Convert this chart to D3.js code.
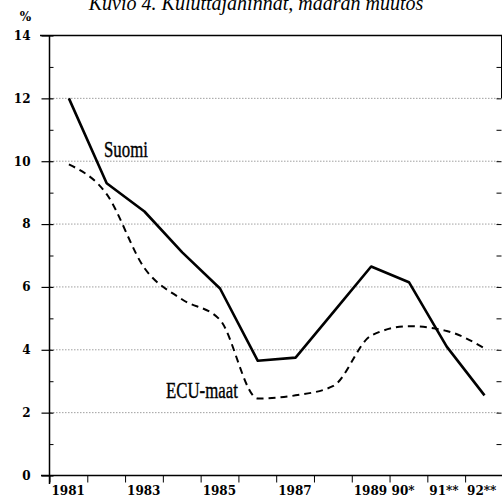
<!DOCTYPE html>
<html>
<head>
<meta charset="utf-8">
<script src="https://cdn.jsdelivr.net/npm/d3@7"></script>
<style>
  body { margin: 0; background: #fff; }
  svg { display: block; }
</style>
</head>
<body>
<svg id="chart" width="502" height="499"></svg>
<script>
// vuodet ja sarjat (luettu kuvasta)
const years = [1981, 1982, 1983, 1984, 1985, 1986, 1987, 1988, 1989, 1990, 1991, 1992]
const yearLabels = ["1981", "", "1983", "", "1985", "", "1987", "", "1989", "90*", "91**", "92**"]
const suomi = [12.0, 9.3, 8.4, 7.1, 5.95, 3.65, 3.75, 5.2, 6.65, 6.15, 4.1, 2.55]
const ecu = [9.9, 8.95, 6.6, 5.6, 4.95, 2.45, 2.55, 2.85, 4.45, 4.75, 4.6, 4.05]
const yTicks = [0, 2, 4, 6, 8, 10, 12, 14]

const svg = d3.select("#chart")
const serif = "'DejaVu Serif', serif"

const x = d3.scaleBand().domain(years).range([50, 503.4]).padding(0)
const y = d3.scaleLinear().domain([0, 14]).range([475.5, 35.5])
const cx = d => x(d) + x.bandwidth() / 2

// otsikko (leikattu yläreunasta kuten alkuperäisessä)
svg.append("text")
    .attr("x", 256).attr("y", 10)
    .attr("text-anchor", "middle")
    .attr("font-family", "'Liberation Serif', serif")
    .attr("font-style", "italic")
    .attr("font-size", 20)
    .text("Kuvio 4. Kuluttajahinnat, määrän muutos")

svg.append("text")
    .attr("x", 25.5).attr("y", 21)
    .attr("text-anchor", "middle")
    .attr("font-family", serif)
    .attr("font-weight", "bold")
    .attr("font-size", 12)
    .text("%")

// katkoviivat
svg.append("g")
    .selectAll("line")
    .data(yTicks.filter(d => d > 0 && d < 14))
    .join("line")
    .attr("x1", 50).attr("x2", 500)
    .attr("y1", d => y(d)).attr("y2", d => y(d))
    .attr("stroke", "#888")
    .attr("stroke-width", 0.8)
    .attr("stroke-dasharray", "1.5,1.5")

// vasen akseli
const left = svg.append("g").attr("transform", "translate(49.5,0)")
    .call(d3.axisLeft(y).tickValues(yTicks).tickSize(8).tickPadding(11).tickFormat(d3.format("d")))
left.select(".domain").remove()
left.selectAll(".tick line").attr("x2", 4).attr("x1", -8).attr("stroke-width", 1.2)
left.selectAll(".tick text")
    .attr("font-family", serif).attr("font-weight", "bold").attr("font-size", 12).attr("fill", "#000")
left.append("line").attr("y1", 35).attr("y2", 484).attr("stroke", "#000").attr("stroke-width", 1.5)

const leftMinor = svg.append("g").attr("transform", "translate(49.5,0)")
    .call(d3.axisRight(y).tickValues([1, 3, 5, 7, 9, 11, 13]).tickSize(4).tickFormat(""))
leftMinor.select(".domain").remove()

// oikea reuna
const right = svg.append("g").attr("transform", "translate(501.5,0)")
    .call(d3.axisLeft(y).tickValues(d3.range(1, 14)).tickSize(5).tickFormat(""))
right.select(".domain").remove()
right.append("line").attr("y1", y(14)).attr("y2", y(12)).attr("stroke", "#000")

// ylä- ja alareuna
svg.append("line").attr("x1", 40).attr("x2", 502).attr("y1", y(14)).attr("y2", y(14))
    .attr("stroke", "#000").attr("stroke-width", 1.3)

const bottom = svg.append("g").attr("transform", `translate(0,${y(0)})`)
    .call(d3.axisBottom(x).tickSize(7).tickPadding(3).tickFormat((d, i) => yearLabels[i]))
bottom.select(".domain").attr("d", "M41,0H502").attr("stroke-width", 1.3)
bottom.selectAll(".tick").attr("transform", d => `translate(${x(d)},0)`)
bottom.selectAll(".tick text")
    .attr("text-anchor", "start").attr("x", 1.5).attr("y", 19.5).attr("dy", null)
    .attr("font-family", serif).attr("font-weight", "bold").attr("font-size", 12).attr("fill", "#000")

// sarjat
const line = d3.line().x((d, i) => cx(years[i])).y(d => y(d))

svg.append("path")
    .datum(ecu)
    .attr("d", line.curve(d3.curveMonotoneX))
    .attr("fill", "none")
    .attr("stroke", "#000")
    .attr("stroke-width", 2)
    .attr("stroke-dasharray", "7,5")

svg.append("path")
    .datum(suomi)
    .attr("d", d3.line().x((d, i) => cx(years[i])).y(d => y(d)))
    .attr("fill", "none")
    .attr("stroke", "#000")
    .attr("stroke-width", 2.6)
    .attr("stroke-linejoin", "round")

// nimilaput
const labels = [
    {name: "Suomi", x: 104, y: 157},
    {name: "ECU-maat", x: 166, y: 398}
]
svg.append("g")
    .selectAll("text")
    .data(labels)
    .join("text")
    .attr("transform", d => `translate(${d.x},${d.y}) scale(0.7,1)`)
    .attr("font-family", "'Liberation Serif', serif")
    .attr("font-size", 24)
    .attr("stroke", "#000")
    .attr("stroke-width", 0.4)
    .text(d => d.name)
</script>
</body>
</html>
